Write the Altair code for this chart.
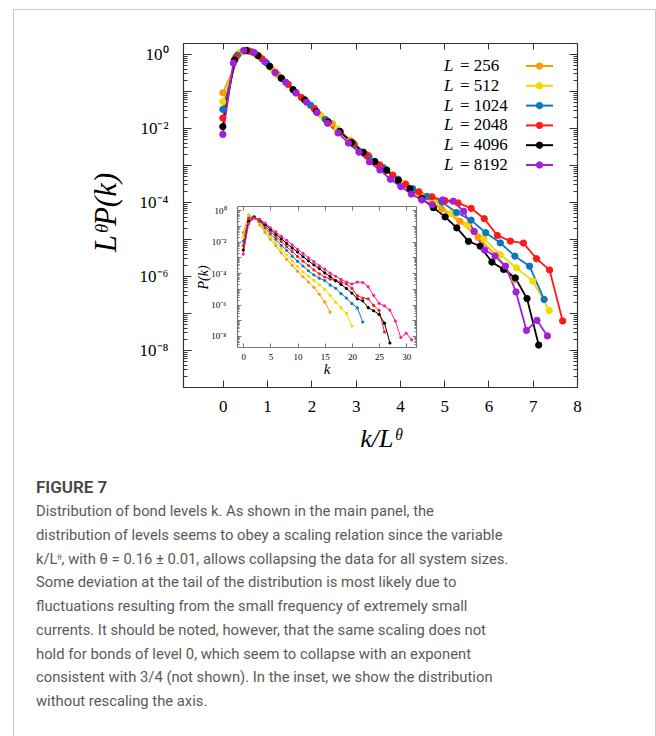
import altair as alt
import pandas as pd

THETA = 0.16
sizes = [256, 512, 1024, 2048, 4096, 8192]

# P(k) for k = 0, 1, 2, ...
P_256 = [3.7e-2, 4.7e-1, 3.6e-1, 1.15e-1, 3.8e-2, 1.4e-2, 5.4e-3, 1.9e-3, 7.5e-4, 3.1e-4,
         1.3e-4, 5.8e-5, 2.7e-5, 1.25e-5, 4.6e-6, 1.46e-6, 3.3e-7]
P_512 = [1.9e-2, 4.0e-1, 3.7e-1, 1.5e-1, 5.5e-2, 2.2e-2, 8.3e-3, 3.5e-3, 1.4e-3, 5.9e-4,
         2.7e-4, 1.2e-4, 6.4e-5, 3.5e-5, 1.8e-5, 8.9e-6, 3.8e-6, 1.4e-6, 6.1e-7, 2.7e-7, 4.3e-8]
P_1024 = [1.06e-2, 3.1e-1, 3.8e-1, 1.9e-1, 7.4e-2, 3.0e-2, 1.37e-2, 5.7e-3, 2.7e-3, 1.17e-3,
          5.5e-4, 2.8e-4, 1.37e-4, 7.6e-5, 4.7e-5, 3.3e-5, 1.72e-5, 1.07e-5, 4.9e-6, 2.6e-6,
          1.14e-6, 6.1e-7, 7.7e-8]
P_2048 = [5.5e-3, 2.45e-1, 3.6e-1, 2.2e-1, 9.5e-2, 4.5e-2, 2.0e-2, 1.0e-2, 4.6e-3, 2.3e-3,
          1.12e-3, 5.6e-4, 3.0e-4, 1.58e-4, 8.9e-5, 5.6e-5, 4.1e-5, 3.2e-5, 2.8e-5, 2.0e-5,
          1.05e-5, 3.7e-6, 2.6e-6, 2.3e-6, 8.7e-7, 4.3e-7, 1.8e-8]
P_4096 = [2.9e-3, 1.83e-1, 3.33e-1, 2.41e-1, 1.24e-1, 5.9e-2, 2.9e-2, 1.52e-2, 7.4e-3, 3.9e-3,
          2.15e-3, 1.08e-3, 5.9e-4, 3.3e-4, 1.91e-4, 1.03e-4, 6.0e-5, 3.3e-5, 1.87e-5, 1.05e-5,
          5.3e-6, 2.3e-6, 1.7e-6, 6.3e-7, 4.0e-7, 2.35e-7, 6.5e-8, 3.6e-9]
P_8192 = [1.6e-3, 1.36e-1, 2.98e-1, 2.6e-1, 1.49e-1, 7.5e-2, 4.1e-2, 2.1e-2, 1.19e-2, 6.2e-3,
          3.2e-3, 1.75e-3, 9.3e-4, 5.3e-4, 2.9e-4, 1.75e-4, 9.8e-5, 6.2e-5, 3.9e-5, 2.7e-5,
          2.0e-5, 2.7e-5, 2.5e-5, 1.33e-5, 3.8e-6, 1.19e-6, 8.2e-7, 4.4e-7, 8.8e-8, 8.0e-9,
          1.5e-8, 5.7e-9]

series = [P_256, P_512, P_1024, P_2048, P_4096, P_8192]
labels = [f"L = {L}" for L in sizes]
legend_eq = [f"= {L}" for L in sizes]
colors_main = ["#ff9a00", "#f5d800", "#0a78c0", "#ff1a1a", "#000000", "#a21fdc"]
colors_inset = ["#ff9a00", "#f5d800", "#0a78c0", "#ff1a1a", "#000000", "#ff1f8e"]

main_xticks = [0, 1, 2, 3, 4, 5, 6, 7, 8]
inset_xticks = [0, 5, 10, 15, 20, 25, 30]
main_decades = [10.0 ** e for e in range(-9, 1)]
main_minor = [m * 10.0 ** e for e in range(-9, 0) for m in range(2, 10)] + [2.0]
inset_decades = [10.0 ** e for e in range(-8, 1)]
inset_minor = [m * 10.0 ** e for e in range(-9, 0) for m in range(2, 10) if m * 10.0 ** e >= 2e-9] + [1.0]
dec_label = ("['10⁰','','10⁻²','','10⁻⁴','','10⁻⁶','','10⁻⁸','']"
             "[-round(log(datum.value)/LN10)]")

caption_title = "FIGURE 7"
caption_lines = [
    "Distribution of bond levels k. As shown in the main panel, the",
    "distribution of levels seems to obey a scaling relation since the variable",
    "k/Lᶿ, with θ = 0.16 ± 0.01, allows collapsing the data for all system sizes.",
    "Some deviation at the tail of the distribution is most likely due to",
    "fluctuations resulting from the small frequency of extremely small",
    "currents. It should be noted, however, that the same scaling does not",
    "hold for bonds of level 0, which seem to collapse with an exponent",
    "consistent with 3/4 (not shown). In the inset, we show the distribution",
    "without rescaling the axis.",
]

rows = []
for L, lab, P in zip(sizes, labels, series):
    for k, p in enumerate(P):
        rows.append({"L": L, "label": lab, "k": k, "P": p})
df = pd.DataFrame(rows)
legend_df = pd.DataFrame({"label": labels, "eq": legend_eq})

cap_df = pd.DataFrame({"line": list(range(len(caption_lines))), "text": caption_lines})
cap_title_df = pd.DataFrame({"line": [-1], "text": [caption_title]})

W, H = 642, 740
SERIF = "Liberation Serif"
AX = "#333333"

mx = alt.Scale(domain=[-0.9, 8.0], range=[170, 564], zero=False, nice=False)
my = alt.Scale(type="log", domain=[1e-9, 2], range=[378, 34], nice=False)
ix = alt.Scale(domain=[-1.15, 31.8], range=[224, 403], zero=False, nice=False)
iy = alt.Scale(type="log", domain=[2e-9, 1.8], range=[338, 197], nice=False)
leg_y = alt.Scale(type="point", domain=labels, range=[57, 156], padding=0)
cap_scale = alt.Scale(domain=[0, 8], range=[503, 693])


def axis(orient, offset, values, tick, color=AX, domain=True, **kw):
    return alt.Axis(orient=orient, offset=offset, values=values,
                    tickSize={"expr": str(-tick)}, tickColor=color, tickWidth=1,
                    domain=domain, domainColor=color, domainWidth=1.2,
                    grid=False, labelOverlap=False, labelFlush=False, **kw)


def noaxis_labels(orient, offset, values, tick, color=AX, domain=True):
    return axis(orient, offset, values, tick, color=color, domain=domain,
                labels=False, title=None)


stroke_main = alt.Scale(domain=labels, range=colors_main)
fill_main = alt.Scale(domain=labels, range=colors_main)

main = alt.Chart(df).transform_calculate(
    xs=f"datum.k / pow(datum.L, {THETA})",
    ys=f"datum.P * pow(datum.L, {THETA})",
)

m_lines = main.mark_line(strokeWidth=1.8).encode(
    x=alt.X("xs:Q", scale=mx, axis=axis(
        "bottom", -(H - 378), main_xticks, 7, labelPadding=18, labelFont=SERIF,
        labelFontSize=17, labelColor="#000", title="k/Lᶿ", titleFont=SERIF,
        titleFontSize=26, titleFontStyle="italic", titleFontWeight="normal",
        titleColor="#000", titleX=367, titleY=51, titleBaseline="middle")),
    y=alt.Y("ys:Q", scale=my, axis=axis(
        "left", -170, main_decades, 8, labelPadding=23, labelFont=SERIF,
        labelFontSize=17, labelColor="#000", labelExpr=dec_label,
        title="LᶿP(k)", titleFont=SERIF, titleFontSize=31, titleFontStyle="italic",
        titleFontWeight="normal", titleColor="#000", titleX=-77, titleY=203,
        titleAngle=270, titleBaseline="middle", titleAlign="center")),
    stroke=alt.Stroke("label:N", scale=stroke_main, legend=None),
    order="k:Q",
)

m_pts = main.mark_point(filled=True, shape="circle", size=40, strokeWidth=1, opacity=1).encode(
    x=alt.X("xs:Q", scale=mx, axis=noaxis_labels("top", -34, main_xticks, 6)),
    y=alt.Y("ys:Q", scale=my, axis=noaxis_labels("right", -(W - 564), main_decades, 8)),
    fill=alt.Fill("label:N", scale=fill_main, legend=None),
    stroke=alt.Stroke("label:N", scale=stroke_main, legend=None),
)

m_minor_l = main.mark_point(opacity=0).encode(
    x=alt.X("xs:Q", scale=mx, axis=None),
    y=alt.Y("ys:Q", scale=my, axis=noaxis_labels("left", -170, main_minor, 4, domain=False)),
)
m_minor_r = main.mark_point(opacity=0).encode(
    x=alt.X("xs:Q", scale=mx, axis=None),
    y=alt.Y("ys:Q", scale=my, axis=noaxis_labels("right", -(W - 564), main_minor, 4, domain=False)),
)

# legend (label on the left, line+dot symbol on the right)
leg = alt.Chart(legend_df)
leg_rule = leg.mark_rule(strokeWidth=2).encode(
    x=alt.value(513), x2=alt.value(540),
    y=alt.Y("label:N", scale=leg_y, axis=None),
    stroke=alt.Stroke("label:N", scale=stroke_main, legend=None),
)
leg_pt = leg.mark_point(filled=True, shape="circle", size=40, strokeWidth=1, opacity=1).encode(
    x=alt.value(526.5),
    y=alt.Y("label:N", scale=leg_y, axis=None),
    fill=alt.Fill("label:N", scale=fill_main, legend=None),
    stroke=alt.Stroke("label:N", scale=stroke_main, legend=None),
)
leg_L = leg.mark_text(align="left", baseline="middle", font=SERIF, fontSize=17,
                      fontStyle="italic", color="#000").encode(
    x=alt.value(431),
    y=alt.Y("label:N", scale=leg_y, axis=None),
    text=alt.value("L"),
)
leg_eq = leg.mark_text(align="left", baseline="middle", font=SERIF, fontSize=17,
                       color="#000").encode(
    x=alt.value(447),
    y=alt.Y("label:N", scale=leg_y, axis=None),
    text="eq:N",
)

inset = alt.Chart(df)
IC = "#777777"
color_inset = alt.Color("label:N", scale=alt.Scale(domain=labels, range=colors_inset), legend=None)

i_lines = inset.mark_line(strokeWidth=1).encode(
    x=alt.X("k:Q", scale=ix, axis=axis(
        "bottom", -(H - 338), inset_xticks, 4, color=IC, labelPadding=9, labelFont=SERIF,
        labelFontSize=9, labelColor="#000", title="k", titleFont=SERIF, titleFontSize=15,
        titleFontStyle="italic", titleFontWeight="normal", titleColor="#000",
        titleX=313.5, titleY=21, titleBaseline="middle")),
    y=alt.Y("P:Q", scale=iy, axis=axis(
        "left", -224, inset_decades, 4, color=IC, labelPadding=15, labelFont=SERIF,
        labelFontSize=9, labelColor="#000", labelExpr=dec_label, title="P(k)",
        titleFont=SERIF, titleFontSize=14, titleFontStyle="italic", titleFontWeight="normal",
        titleColor="#000", titleX=-34, titleY=268, titleAngle=270,
        titleBaseline="middle", titleAlign="center")),
    color=color_inset,
    order="k:Q",
)
i_pts = inset.mark_point(filled=True, shape="circle", size=10, opacity=1).encode(
    x=alt.X("k:Q", scale=ix, axis=noaxis_labels("top", -197, inset_xticks, 4, color=IC)),
    y=alt.Y("P:Q", scale=iy, axis=noaxis_labels("right", -(W - 403), inset_decades, 4, color=IC)),
    color=color_inset,
)
i_minor_l = inset.mark_point(opacity=0).encode(
    x=alt.X("k:Q", scale=ix, axis=None),
    y=alt.Y("P:Q", scale=iy, axis=noaxis_labels("left", -224, inset_minor, 2, color=IC, domain=False)),
)
i_minor_r = inset.mark_point(opacity=0).encode(
    x=alt.X("k:Q", scale=ix, axis=None),
    y=alt.Y("P:Q", scale=iy, axis=noaxis_labels("right", -(W - 403), inset_minor, 2, color=IC, domain=False)),
)

CAP_FONT = "Roboto"
cap_head = alt.Chart(cap_title_df).mark_text(
    align="left", baseline="middle", font=CAP_FONT, fontSize=17, fontWeight=600, color="#454545"
).encode(
    x=alt.value(23),
    y=alt.Y("line:Q", scale=cap_scale, axis=None),
    text="text:N",
)
cap_body = alt.Chart(cap_df).mark_text(
    align="left", baseline="middle", font=CAP_FONT, fontSize=14.8, color="#5a5a5a"
).encode(
    x=alt.value(23),
    y=alt.Y("line:Q", scale=cap_scale, axis=None),
    text="text:N",
)

chart = alt.layer(
    m_lines, m_pts, m_minor_l, m_minor_r,
    leg_rule, leg_pt, leg_L, leg_eq,
    i_lines, i_pts, i_minor_l, i_minor_r,
    cap_head, cap_body,
).resolve_scale(
    x="independent", y="independent"
).properties(
    width=W, height=H, autosize="none", background="white",
    padding={"left": 13, "top": 9, "right": 1, "bottom": 0},
).configure_view(
    stroke="#cccccc", strokeWidth=1
)

chart.save("out.html", embed_options={"renderer": "svg", "actions": False})
